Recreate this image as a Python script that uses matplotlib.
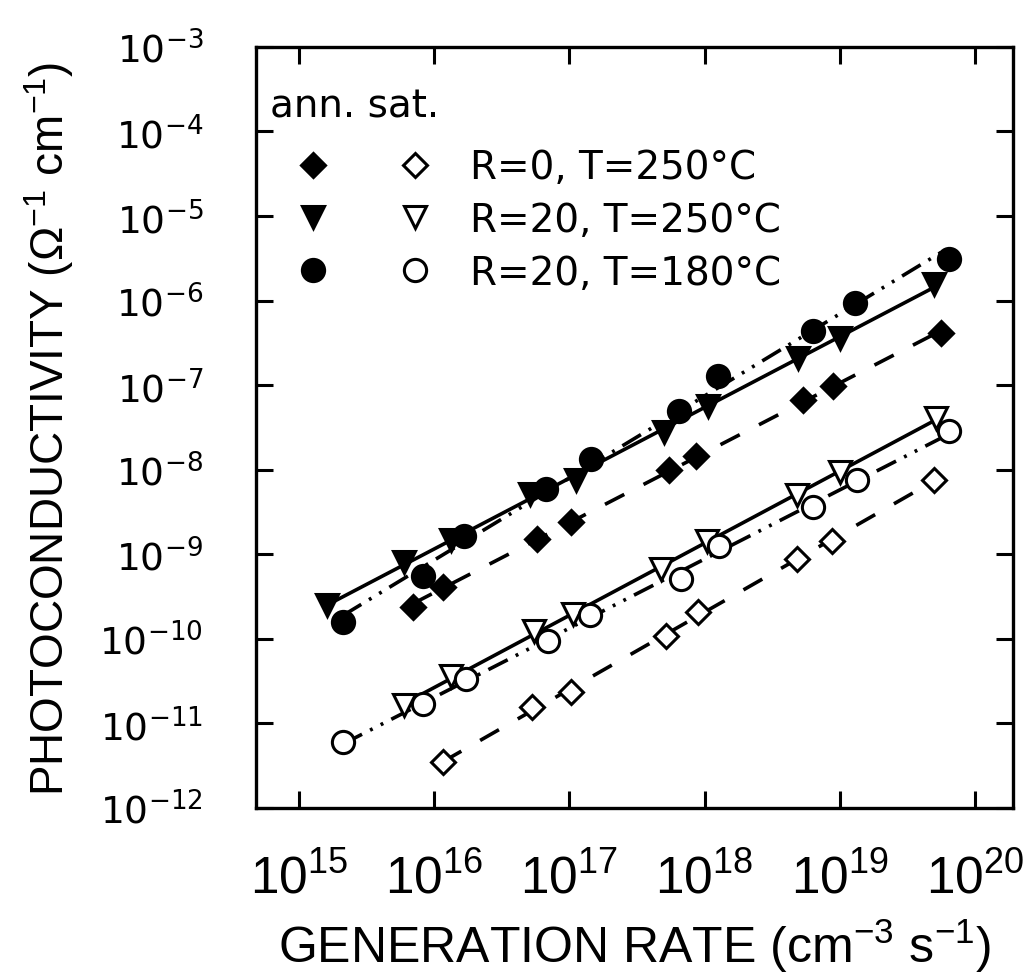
import numpy as np
import matplotlib
matplotlib.use('Agg')
import matplotlib.pyplot as plt
from matplotlib.lines import Line2D
from matplotlib.legend_handler import HandlerTuple

# generation rate (cm^-3 s^-1) vs photoconductivity (1/(Ohm cm))
# R=0, T=250C
g_r0_ann = [6.9e15, 1.15e16, 5.8e16, 1.03e17, 5.5e17, 8.7e17, 5.4e18, 8.9e18, 5.6e19]
s_r0_ann = [2.4e-10, 4.1e-10, 1.5e-9, 2.4e-9, 9.9e-9, 1.45e-8, 6.6e-8, 9.7e-8, 4.1e-7]
g_r0_sat = [1.15e16, 5.3e16, 1.03e17, 5.2e17, 8.9e17, 4.8e18, 8.8e18, 5.0e19]
s_r0_sat = [3.45e-12, 1.55e-11, 2.33e-11, 1.07e-10, 2.06e-10, 8.7e-10, 1.43e-9, 7.5e-9]
# R=20, T=250C
g_r20_250_ann = [1.6e15, 6.0e15, 1.34e16, 5.1e16, 1.12e17, 5.0e17, 1.06e18, 4.9e18, 1.0e19, 5.0e19]
s_r20_250_ann = [2.5e-10, 8.0e-10, 1.47e-9, 5.1e-9, 7.5e-9, 2.78e-8, 5.6e-8, 2.09e-7, 3.6e-7, 1.57e-6]
g_r20_250_sat = [6.0e15, 1.34e16, 5.5e16, 1.07e17, 4.8e17, 1.04e18, 4.8e18, 1.0e19, 5.15e19]
s_r20_250_sat = [1.63e-11, 3.6e-11, 1.23e-10, 1.95e-10, 6.6e-10, 1.43e-9, 5.0e-9, 9.3e-9, 4.1e-8]
# R=20, T=180C
g_r20_180_ann = [2.1e15, 8.2e15, 1.67e16, 6.7e16, 1.45e17, 6.5e17, 1.26e18, 6.4e18, 1.3e19, 6.4e19]
s_r20_180_ann = [1.57e-10, 5.5e-10, 1.63e-9, 5.9e-9, 1.33e-8, 4.9e-8, 1.28e-7, 4.4e-7, 9.3e-7, 3.1e-6]
g_r20_180_sat = [2.1e15, 8.2e15, 1.73e16, 6.9e16, 1.43e17, 6.7e17, 1.28e18, 6.4e18, 1.34e19, 6.5e19]
s_r20_180_sat = [5.96e-12, 1.68e-11, 3.3e-11, 9.3e-11, 1.9e-10, 5.1e-10, 1.24e-9, 3.6e-9, 7.5e-9, 2.86e-8]

labels = ['R=0, T=250°C', 'R=20, T=250°C', 'R=20, T=180°C']
x_exps = [15, 16, 17, 18, 19, 20]
y_exps = [-3, -4, -5, -6, -7, -8, -9, -10, -11, -12]

plt.rcParams['font.family'] = ['DejaVu Sans']
plt.rcParams['mathtext.fontset'] = 'custom'
plt.rcParams['mathtext.rm'] = 'Liberation Sans'
plt.rcParams['mathtext.it'] = 'Liberation Sans:italic'
plt.rcParams['mathtext.bf'] = 'Liberation Sans:bold'

LW = 2.6
dashed = (0, (6, 6))
dashdotdot = (0, (6, 2.5, 0.8, 2.5, 0.8, 2.5))
# marker, size, line style
styles = [('D', 12, dashed), ('v', 16, '-'), ('o', 16, dashdotdot)]
data = [((g_r0_ann, s_r0_ann), (g_r0_sat, s_r0_sat)),
        ((g_r20_250_ann, s_r20_250_ann), (g_r20_250_sat, s_r20_250_sat)),
        ((g_r20_180_ann, s_r20_180_ann), (g_r20_180_sat, s_r20_180_sat))]


def fit_line(ax, g, s, ls):
    lg = np.log10(g)
    k, b = np.polyfit(lg, np.log10(s), 1)
    xx = np.array([lg.min(), lg.max()])
    ax.plot(10**xx, 10**(k*xx + b), color='black', lw=LW, ls=ls, zorder=2)


fig = plt.figure(figsize=(10.28, 9.78), dpi=100)
ax = fig.add_axes([0.249, 0.173, 0.736, 0.778])
ax.set_xscale('log')
ax.set_yscale('log')

handles = []
for (mk, ms, ls), (ann, sat) in zip(styles, data):
    for (g, s), face in ((ann, 'black'), (sat, 'white')):
        fit_line(ax, g, s, ls)
        ax.plot(g, s, ls='none', marker=mk, ms=ms, mfc=face, mec='black',
                mew=2.2, zorder=3)
    h_ann = Line2D([], [], ls='none', marker=mk, ms=ms, mfc='black', mec='black', mew=2.2)
    h_sat = Line2D([], [], ls='none', marker=mk, ms=ms, mfc='white', mec='black', mew=2.2)
    handles.append((h_ann, h_sat))

ax.set_xlim(10**14.68, 10**20.28)
ax.set_ylim(1e-12, 1e-3)
ax.set_xticks([10.0**e for e in x_exps], [f'$10^{{{e}}}$' for e in x_exps])
ax.set_yticks([10.0**e for e in y_exps], [f'$10^{{{e}}}$' for e in y_exps])
ax.minorticks_off()
ax.tick_params(which='major', direction='in', length=12, width=2.2,
               top=True, right=True)
ax.tick_params(axis='x', labelsize=37, pad=33)
ax.tick_params(axis='y', labelsize=27, pad=38)
for t in ax.get_yticklabels():
    t.set_math_fontfamily('dejavusans')
for sp in ax.spines.values():
    sp.set_linewidth(2.4)

ax.set_xlabel('GENERATION RATE (cm$^{-3}$ s$^{-1}$)', family='Liberation Sans', fontsize=36)
ax.xaxis.set_label_coords(0.5, -0.203)
ax.xaxis.label.set_verticalalignment('baseline')
ax.set_ylabel('PHOTOCONDUCTIVITY ($\\Omega^{-1}$ cm$^{-1}$)', family='Liberation Sans', fontsize=33)
ax.yaxis.set_label_coords(-0.238, 0.5)

ax.text(0.0185, 0.908, 'ann. sat.', transform=ax.transAxes, fontsize=28,
        va='baseline', ha='left')
leg = ax.legend(handles, labels, handler_map={tuple: HandlerTuple(ndivide=None, pad=0)},
                loc='upper left', bbox_to_anchor=(0.008, 0.867), borderaxespad=0,
                borderpad=0, frameon=False, fontsize=28, handlelength=5.25,
                handletextpad=0.1, labelspacing=0.38)

fig.savefig('out.png', dpi=100)
